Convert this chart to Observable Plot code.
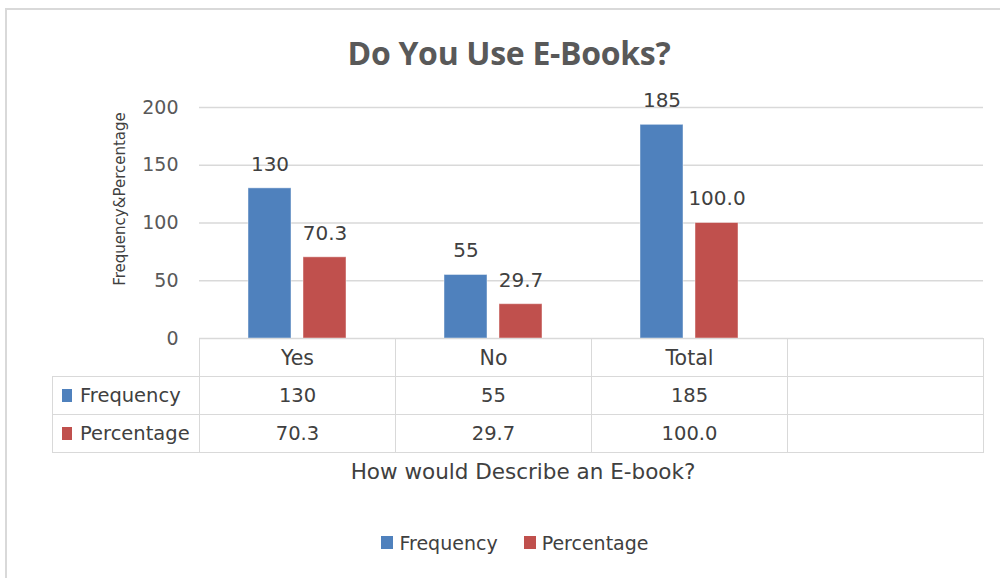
<!DOCTYPE html>
<html>
<head>
<meta charset="utf-8">
<script src="https://cdn.jsdelivr.net/npm/d3@7"></script>
<script src="https://cdn.jsdelivr.net/npm/@observablehq/plot@0.6"></script>
<style>
  html, body { margin: 0; padding: 0; background: #fff; }
  #wrap { position: relative; width: 1000px; height: 578px; overflow: hidden; font-family: "DejaVu Sans", sans-serif; color: #404040; }
  #wrap .abs { position: absolute; }
  .cell { position: absolute; box-sizing: border-box; border: 1px solid #d9d9d9; display: flex; align-items: center; justify-content: center; font-size: 19.5px; color: #404040; }
  .sw { display: inline-block; width: 10px; height: 13px; margin-right: 8px; }
</style>
</head>
<body>
<div id="wrap"></div>
<script>
// ---- data ----
const categories = ["Yes", "No", "Total", ""];
const series = ["Frequency", "Percentage"];
const frequency = [130, 55, 185];
const percentage = [70.3, 29.7, 100.0];
const yTicks = [0, 50, 100, 150, 200];
const colors = ["#4F81BD", "#C0504D"];
const title = "Do You Use E-Books?";
const xTitle = "How would Describe an E-book?";
const yTitle = "Frequency&Percentage";

const fmt = [v => String(v), v => v.toFixed(1)];
const rows = [];
[frequency, percentage].forEach((vals, si) => {
  vals.forEach((v, ci) => rows.push({cat: categories[ci], series: series[si], value: v, label: fmt[si](v)}));
});
// gridlines in every category band (keeps the empty 4th band drawn)
const gridRows = categories.flatMap(c => yTicks.map(v => ({cat: c, v})));

const W = 1000, H = 578;
const wrap = document.getElementById("wrap");

// frame
const frame = document.createElement("div");
frame.className = "abs";
Object.assign(frame.style, {left: "5px", top: "8px", right: "-4px", bottom: "-4px", border: "2px solid #d9d9d9"});
wrap.appendChild(frame);

const plot = Plot.plot({
  width: W,
  height: H,
  marginLeft: 197,
  marginRight: 16,
  marginTop: 107,
  marginBottom: 240,
  style: {background: "transparent", fontFamily: "DejaVu Sans, sans-serif", overflow: "visible"},
  fx: {domain: categories, padding: 0, axis: null, label: null},
  x: {domain: series, paddingInner: 0.214, paddingOuter: 0.866, axis: null},
  y: {domain: [0, 200], ticks: yTicks, label: null},
  color: {domain: series, range: colors},
  marks: [
    Plot.ruleY(gridRows, {fx: "cat", y: "v", stroke: "#d9d9d9", strokeWidth: 1.3}),
    Plot.axisY(yTicks, {tickSize: 0, tickPadding: 21, fontSize: 19, fill: "#595959", label: null}),
    Plot.barY(rows, {fx: "cat", x: "series", y: "value", fill: "series", stroke: "#ffffff", strokeOpacity: 0.45, strokeWidth: 1}),
    Plot.text(rows, {fx: "cat", x: "series", y: "value", text: "label", dy: -24, fontSize: 20, fill: "#404040"})
  ]
});
plot.style.position = "absolute";
plot.style.left = "0px";
plot.style.top = "0px";
wrap.appendChild(plot);

// title
const t = document.createElement("div");
t.className = "abs";
Object.assign(t.style, {left: "0px", width: "1018px", top: "31px", textAlign: "center", fontFamily: "'Open Sans', sans-serif", fontSize: "32px", fontWeight: "700", color: "#595959", letterSpacing: "-0.3px"});
t.textContent = title;
wrap.appendChild(t);

// y title (rotated)
const yt = document.createElement("div");
yt.className = "abs";
Object.assign(yt.style, {left: "120px", top: "199px", transform: "translate(-50%,-50%) rotate(-90deg)", whiteSpace: "nowrap", fontSize: "15px", color: "#404040"});
yt.textContent = yTitle;
wrap.appendChild(yt);

// data table, aligned with the fx scale
const fx = plot.scale("fx");
const ys = plot.scale("y");
const bw = fx.bandwidth;
const top0 = ys.apply(0);
const rowH = 38;
const leftCol = 52;
const firstX = fx.apply(categories[0]);

function cell(x, y, w, h, html, extra) {
  const c = document.createElement("div");
  c.className = "cell";
  Object.assign(c.style, {left: x + "px", top: y + "px", width: (w + 1) + "px", height: (h + 1) + "px"}, extra || {});
  c.innerHTML = html;
  wrap.appendChild(c);
  return c;
}
// header row
categories.forEach(c => cell(fx.apply(c), top0, bw, rowH, c, {fontSize: "20.5px"}));
// series rows
const seriesVals = [frequency, percentage];
series.forEach((s, si) => {
  const y = top0 + rowH * (si + 1);
  cell(leftCol, y, firstX - leftCol, rowH, `<span class="sw" style="background:${colors[si]}"></span>${s}`, {justifyContent: "flex-start", paddingLeft: "9px"});
  categories.forEach((c, ci) => cell(fx.apply(c), y, bw, rowH, ci < seriesVals[si].length ? fmt[si](seriesVals[si][ci]) : ""));
});

// x title
const xt = document.createElement("div");
xt.className = "abs";
Object.assign(xt.style, {left: "0px", width: "1046px", top: "459px", textAlign: "center", fontSize: "21.5px", color: "#404040"});
xt.textContent = xTitle;
wrap.appendChild(xt);

// legend
const lg = document.createElement("div");
lg.className = "abs";
Object.assign(lg.style, {left: "0px", width: "1030px", top: "531px", textAlign: "center", fontSize: "19px", color: "#404040"});
lg.innerHTML = series.map((s, i) => `<span style="display:inline-flex;align-items:center;margin:0 13px"><span class="sw" style="background:${colors[i]};width:12px;height:13px;margin-right:6px"></span>${s}</span>`).join("");
wrap.appendChild(lg);
</script>
</body>
</html>
